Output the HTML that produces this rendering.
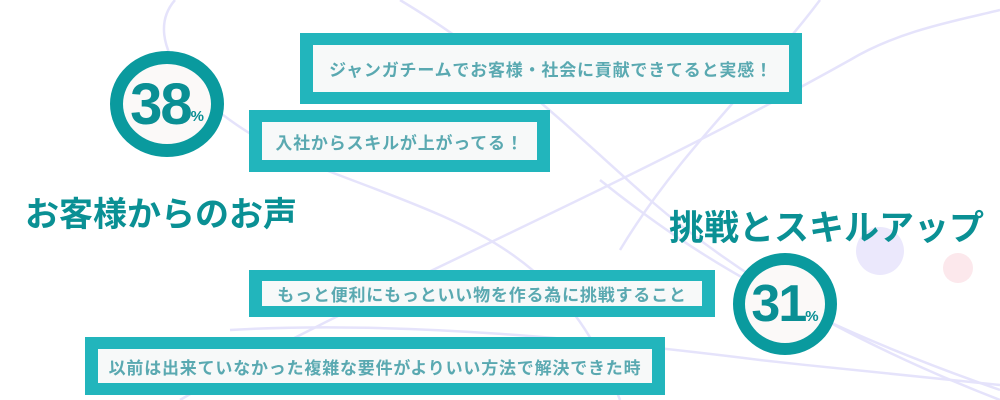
<!DOCTYPE html>
<html><head><meta charset="utf-8"><style>
body{margin:0;width:1000px;height:400px;overflow:hidden;background:#fff;position:relative;font-family:"Liberation Sans","Noto Sans CJK JP",sans-serif}
.box{position:absolute;background:#22b5bc;box-sizing:border-box}
.box div{position:absolute;left:13px;right:13px;top:12px;bottom:12px;background:#f7f9f9;color:#5aa9b1;font-weight:bold;font-size:17px;display:flex;align-items:center;justify-content:center;letter-spacing:0.8px;white-space:nowrap}
.ring{position:absolute;border-radius:50%;border:13px solid #0a9a9e;background:#fbf9f8;box-sizing:border-box;color:#0a8f94;font-weight:bold;display:flex;align-items:center;justify-content:center;letter-spacing:-2px}
.ring span{font-size:15px;margin-top:24px;letter-spacing:0}
.t{position:absolute;color:#0a9094;font-weight:bold;white-space:nowrap}
svg{position:absolute;left:0;top:0}
</style></head><body>
<svg width="1000" height="400">
<circle cx="880" cy="251" r="24" fill="#ebe8fc"/>
<circle cx="958" cy="268" r="15" fill="#fce8ec"/>
<g fill="none" stroke="#e5e3fb" stroke-width="2.5">
<path d="M175 0 C140 40 190 110 300 160 C450 220 560 240 620 400"/>
<path d="M400 0 C500 60 560 120 650 200 C720 260 820 330 1000 400"/>
<path d="M180 400 C350 300 600 200 850 60 C900 30 960 20 1000 10"/>
<path d="M600 180 C700 260 800 320 1000 390"/>
<path d="M230 330 C400 320 600 340 760 360 C850 370 950 380 1000 385"/>
<path d="M620 250 C680 150 760 80 820 0"/>
</g>
</svg>
<div class="box" style="left:300px;top:33px;width:502px;height:71px"><div>ジャンガチームでお客様・社会に貢献できてると実感！</div></div>
<div class="box" style="left:249px;top:110px;width:301px;height:62px"><div>入社からスキルが上がってる！</div></div>
<div class="box" style="left:249px;top:270px;width:466px;height:47px"><div style="top:11px;bottom:11px">もっと便利にもっといい物を作る為に挑戦すること</div></div>
<div class="box" style="left:85px;top:337px;width:580px;height:58px"><div>以前は出来ていなかった複雑な要件がよりいい方法で解決できた時</div></div>
<div class="ring" style="left:110px;top:51px;width:114px;height:106px;font-size:58px">38<span>%</span></div>
<div class="ring" style="left:733px;top:253px;width:104px;height:102px;border-width:12px;font-size:52px">31<span>%</span></div>
<div class="t" style="left:25px;top:187px;font-size:34px">お客様からのお声</div>
<div class="t" style="left:669px;top:200px;font-size:35px">挑戦とスキルアップ</div>
</body></html>
